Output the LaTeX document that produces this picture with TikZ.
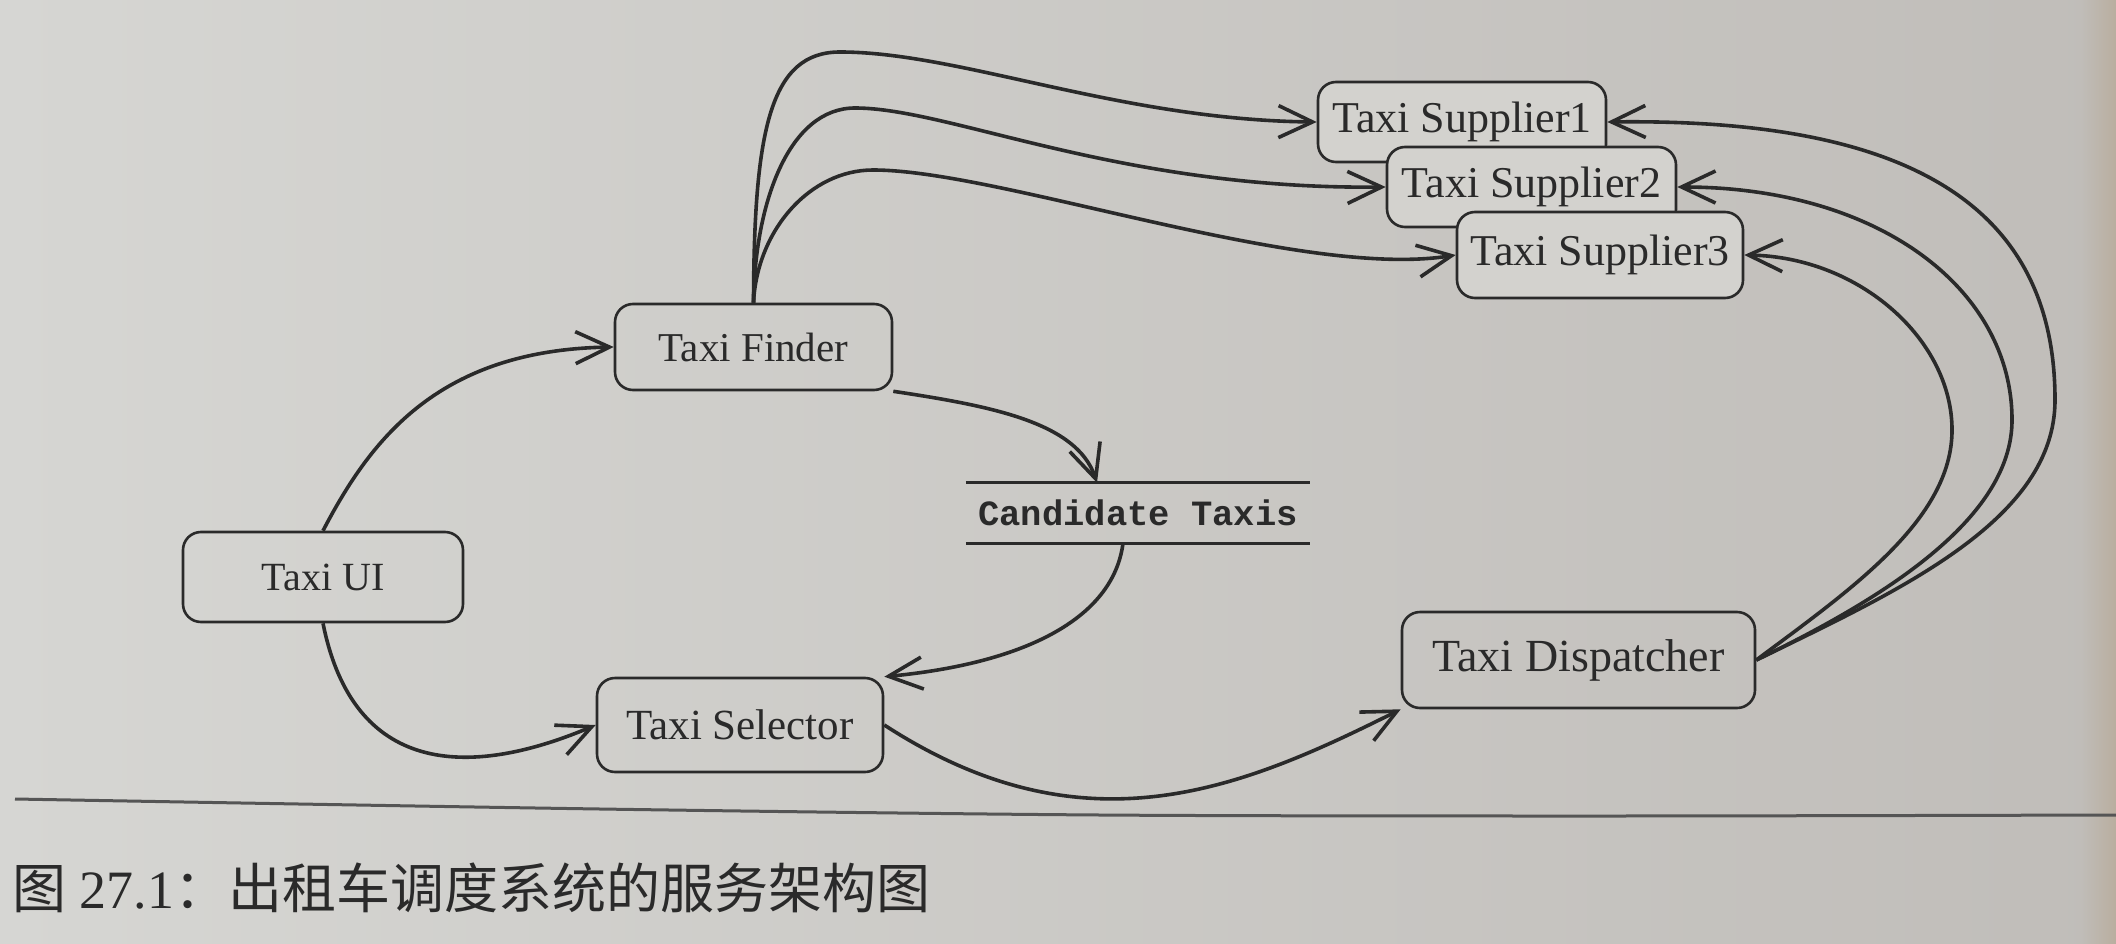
\documentclass[tikz,border=0pt]{standalone}
\usepackage{fontspec}
\setmainfont{Liberation Serif}
\newfontfamily\cjkfont{Noto Sans CJK SC}
\newfontfamily\candfont{Liberation Mono}
\usetikzlibrary{arrows.meta}
\definecolor{ink}{HTML}{2A2A2A}
\definecolor{bgL}{HTML}{D6D6D3}
\definecolor{bgR}{HTML}{C0BDB9}
\definecolor{boxfill}{HTML}{D3D2CE}
\definecolor{rulecol}{HTML}{555555}
\definecolor{edgecol}{HTML}{B9AE9F}
\newcommand\setfs[1]{\fontsize{#1pt}{#1pt}\selectfont}
\tikzset{
  svc/.style={draw=ink, line width=2.6pt, rounded corners=18pt, inner sep=0pt, text=ink},
  supp/.style={svc, fill=boxfill},
  conn/.style={draw=ink, line width=3.6pt, -{Straight Barb[length=34pt,width=32pt]}},
  storeline/.style={draw=ink, line width=3pt}
}
\begin{document}
\begin{tikzpicture}[x=1pt,y=-1pt]
\useasboundingbox (0,0) rectangle (2116,944);
\shade[left color=bgL, right color=bgR] (0,0) rectangle (2116,944);
\shade[left color=bgR, right color=edgecol] (2080,0) rectangle (2116,944);

% nodes
\node[svc, minimum width=280pt, minimum height=90pt, font=\setfs{40}] (ui) at (323,577) {Taxi UI};
\node[svc, minimum width=277pt, minimum height=86pt, font=\setfs{41}] (finder) at (753.5,347) {Taxi Finder};
\node[svc, minimum width=286pt, minimum height=94pt, font=\setfs{43}] (selector) at (740,725) {Taxi Selector};
\node[svc, minimum width=353pt, minimum height=96pt, font=\setfs{46}] (dispatcher) at (1578.5,660) {Taxi Dispatcher};
\node[supp, minimum width=288pt, minimum height=80pt, font=\setfs{44}] (s1) at (1462,122) {Taxi Supplier1};
\node[supp, minimum width=289pt, minimum height=80pt, font=\setfs{44}] (s2) at (1531.5,187) {Taxi Supplier2};
\node[supp, minimum width=286pt, minimum height=86pt, font=\setfs{44}] (s3) at (1600,255) {Taxi Supplier3};
\node[inner sep=0pt, minimum width=344pt, minimum height=60pt, text=ink, font=\candfont\bfseries\setfs{35.5}] (cand) at (1138,513) {Candidate Taxis};
\draw[storeline] (cand.north west) -- (cand.north east);
\draw[storeline] (cand.south west) -- (cand.south east);

% connectors
\draw[conn] (ui.north) .. controls +(48,-92) and +(-175,3) .. (finder.west);
\draw[conn] (ui.south) .. controls +(30,150) and +(-130,55) .. (selector.west);
\draw[conn] (finder.south east) .. controls +(100,15) and +(-20,-60) .. ([xshift=-41pt]cand.north);
\draw[conn] ([xshift=-15pt]cand.south) .. controls +(-10,77) and +(137,-13) .. (selector.north east);
\draw[conn] (selector.east) .. controls +(200,130) and +(-160,80) .. (dispatcher.south west);

\draw[conn] (finder.north) .. controls (754,130) and (770,52) .. (840,52) .. controls (960,52) and (1120,120) .. (s1.west);
\draw[conn] (finder.north) .. controls (755,200) and (790,108) .. (855,108) .. controls (950,108) and (1120,190) .. (s2.west);
\draw[conn] (finder.north) .. controls (757,230) and (810,170) .. (873,170) .. controls (1000,170) and (1300,280) .. (s3.west);

\draw[conn] (dispatcher.east) .. controls (1900,590) and (2055,520) .. (2055,400) .. controls (2055,200) and (1900,118) .. (s1.east);
\draw[conn] (dispatcher.east) .. controls (1880,600) and (2012,520) .. (2012,420) .. controls (2012,290) and (1880,187) .. (s2.east);
\draw[conn] (dispatcher.east) .. controls (1850,590) and (1952,520) .. (1952,430) .. controls (1952,340) and (1860,257) .. (s3.east);

% rule and caption
\draw[rulecol, line width=3pt] plot[smooth] coordinates {(15,799) (600,809) (1100,815) (1600,816) (2116,815)};
\node[anchor=west, inner sep=0pt, text=ink, font=\setfs{54}] (caption) at (12,888)
  {{\cjkfont 图} 27.1{\cjkfont ：出租车调度系统的服务架构图}};
\end{tikzpicture}
\end{document}
